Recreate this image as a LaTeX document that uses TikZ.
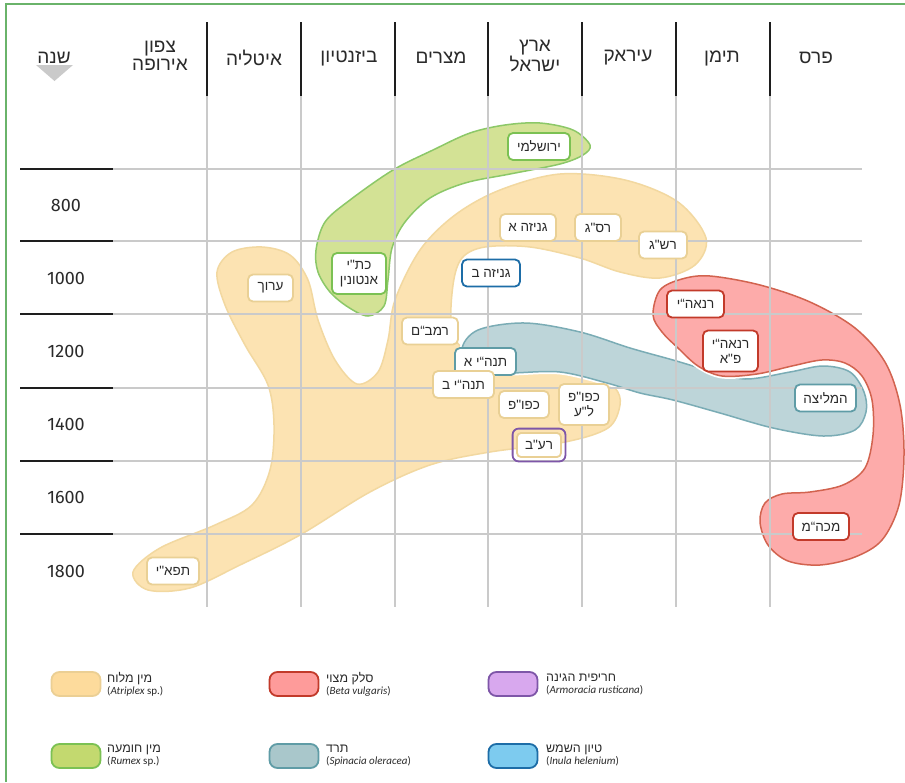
\documentclass[tikz,border=0pt]{standalone}
\usepackage{fontspec}
\setmainfont{Liberation Sans}
\newfontfamily\heb[Script=Hebrew]{Liberation Sans}
\newfontfamily\numf{Fira Sans}
\newfontfamily\latf{Carlito}
\TeXXeTstate=1
\newcommand\HebT[1]{\beginR #1\endR}

\definecolor{frameg}{HTML}{6AB36A}
\definecolor{gridg}{HTML}{CACACA}
\definecolor{gridk}{HTML}{1E1E1E}
\definecolor{txt}{HTML}{2A2A2A}
% blob colours
\definecolor{byF}{HTML}{FCE3B2}\definecolor{byD}{HTML}{F2D8A0}
\definecolor{btF}{HTML}{BDD5D9}\definecolor{btD}{HTML}{7AACB5}
\definecolor{brF}{HTML}{FDABAA}\definecolor{brD}{HTML}{D2634F}
\definecolor{bgF}{HTML}{D3E295}\definecolor{bgD}{HTML}{8CC868}
% node borders
\definecolor{nY}{HTML}{E9D095}
\definecolor{nG}{HTML}{7BC153}
\definecolor{nB}{HTML}{1D6DA7}
\definecolor{nR}{HTML}{C23A2A}
\definecolor{nT}{HTML}{5F9CA6}
\definecolor{nP}{HTML}{7E56A8}
% legend fills
\definecolor{lY}{HTML}{FDDB9C}\definecolor{lYd}{HTML}{EBCF94}
\definecolor{lR}{HTML}{FE9B9A}
\definecolor{lP}{HTML}{D8A8EE}
\definecolor{lG}{HTML}{C3D96F}
\definecolor{lT}{HTML}{A9C7CB}
\definecolor{lB}{HTML}{7DCBEF}

\begin{document}
\begin{tikzpicture}[x=1pt,y=-1pt,
  blob/.style={line width=1.5pt, preaction={draw=white, line width=5pt}},
  gline/.style={draw=gridg, line width=2pt},
  kline/.style={draw=gridk, line width=2pt},
  head/.style={text=txt, align=center, inner sep=0pt, font=\heb\fontsize{19}{18}\selectfont},
  year/.style={text=txt, inner sep=0pt, font=\numf\fontsize{18}{18}\selectfont},
  tbox/.style={draw, fill=white, rounded corners=5pt, line width=1.8pt,
     minimum height=27pt, inner xsep=4pt, inner ysep=3pt, align=center,
     text=txt, font=\heb\fontsize{13.5}{15}\selectfont},
  two/.style={minimum height=41pt},
  swatch/.style={rounded corners=8pt, line width=1.8pt, minimum width=49pt, minimum height=24pt, inner sep=0pt},
  legtxt/.style={anchor=west, align=left, inner sep=0pt, text=txt},
  lhe/.style={},
]
\useasboundingbox (0,0) rectangle (905,782);

% frame
\draw[frameg, line width=1.5pt] (6,782) -- (6,4) -- (905,4);

% ---------- blobs ----------
% Atriplex (yellow)
\path[blob, fill=byF, draw=byD] plot[smooth cycle, tension=0.55] coordinates {
 (133,572) (160,548) (215,525) (252,505) (270,470) (274,425) (268,385) (245,345)
 (225,305) (217,272) (232,252) (262,247) (290,255) (308,280) (318,320) (335,360)
 (357,384) (378,372) (388,340) (395,300) (420,250) (455,215) (500,190) (560,174)
 (625,180) (678,202) (706,238) (695,265) (660,278) (620,272) (580,258) (530,247)
 (485,247) (462,258) (453,285) (452,330) (470,352) (530,362) (590,372) (615,388)
 (620,405) (608,428) (565,442) (490,452) (430,465) (370,492) (300,535) (240,565)
 (190,588) (148,590)};
% Spinacia (teal)
\path[blob, fill=btF, draw=btD] plot[smooth cycle, tension=0.55] coordinates {
 (462,350) (478,330) (525,323) (580,332) (630,348) (673,360) (707,370) (745,379)
 (790,372) (823,366) (850,372) (864,392) (866,412) (855,430) (823,436) (773,428)
 (720,413) (673,400) (640,393) (607,383) (560,372) (510,373) (478,372)};
% Beta (red)
\path[blob, fill=brF, draw=brD] plot[smooth cycle, tension=0.55] coordinates {
 (653,315) (660,290) (682,279) (710,276) (760,285) (810,302) (855,328) (885,362)
 (900,405) (904,455) (899,505) (882,540) (855,557) (820,565) (788,561) (768,545)
 (760,522) (765,503) (782,494) (810,492) (843,485) (865,468) (873,435) (872,400)
 (862,376) (845,363) (822,360) (792,366) (757,374) (722,376) (698,366) (678,348)
 (662,332)};
% Rumex (green)
\path[blob, fill=bgF, draw=bgD] plot[smooth cycle, tension=0.55] coordinates {
 (590,145) (573,130) (540,123) (505,125) (470,133) (433,150) (393,170) (350,200)
 (325,222) (316,250) (318,272) (330,292) (348,307) (368,316) (384,306) (388,280)
 (392,248) (405,222) (430,198) (465,183) (510,174) (560,164) (583,155)};

% ---------- grid ----------
\foreach \x in {207,301,395,488,582,676,770}{
  \draw[gline] (\x,96) -- (\x,607);
  \draw[kline] (\x,22) -- (\x,96);
}
\foreach \y in {169,241,314,388,461,534}{
  \draw[gline] (113,\y) -- (862,\y);
  \draw[kline] (20,\y) -- (113,\y);
}

% ---------- headers ----------
\node[head] (hYear) at (54,58) {\HebT{שנה}};
\path[fill=gridg] (36,65) -- (73,65) -- (54.5,81) -- cycle;
\node[head] (hEur) at (160,56) {\HebT{צפון}\\\HebT{אירופה}};
\node[head] (hIta) at (254,58) {\HebT{איטליה}};
\node[head] (hByz) at (349,58) {\HebT{ביזנטיון}};
\node[head] (hEgy) at (441,58) {\HebT{מצרים}};
\node[head] (hIsr) at (535,56) {\HebT{ארץ}\\\HebT{ישראל}};
\node[head] (hIrq) at (628,58) {\HebT{עיראק}};
\node[head] (hYem) at (722,58) {\HebT{תימן}};
\node[head] (hPer) at (816,58) {\HebT{פרס}};

% ---------- years ----------
\node[year] (y800)  at (66,205) {800};
\node[year] (y1000) at (66,278) {1000};
\node[year] (y1200) at (66,351) {1200};
\node[year] (y1400) at (66,424) {1400};
\node[year] (y1600) at (66,497) {1600};
\node[year] (y1800) at (66,571) {1800};

% ---------- text boxes ----------
\node[tbox, draw=nG, minimum width=62pt] (n1) at (539,146.5) {\HebT{ירושלמי}};
\node[tbox, draw=nY, minimum width=56pt] (n2) at (528,227.5) {\HebT{גניזה א}};
\node[tbox, draw=nY, minimum width=46pt] (n3) at (598,227.5) {\HebT{רס"ג}};
\node[tbox, draw=nY, minimum width=48pt] (n4) at (663,245) {\HebT{רש"ג}};
\node[tbox, draw=nB, minimum width=58pt] (n5) at (491,273) {\HebT{גניזה ב}};
\node[tbox, draw=nR, minimum width=57pt] (n6) at (695.5,304) {\HebT{רנאה“י}};
\node[tbox, two, draw=nR, minimum width=55pt] (n7) at (730.5,351) {\HebT{רנאה“י}\\\HebT{פ"א}};
\node[tbox, two, draw=nG, minimum width=54pt] (n8) at (359,273.5) {\HebT{כת"י}\\\HebT{אנטונין}};
\node[tbox, draw=nY, minimum width=45pt] (n9) at (270.5,288) {\HebT{ערוך}};
\node[tbox, draw=nY, minimum width=56pt] (n10) at (430,331) {\HebT{רמב“ם}};
\node[tbox, draw=nT, minimum width=61pt] (n11) at (485.5,361.5) {\HebT{תנה“י א}};
\node[tbox, draw=nY, minimum width=61pt] (n12) at (463.5,384.5) {\HebT{תנה“י ב}};
\node[tbox, draw=nY, minimum width=50pt] (n13) at (524,404.5) {\HebT{כפו"פ}};
\node[tbox, two, draw=nY, minimum width=50pt] (n14) at (584,404.5) {\HebT{כפו"פ}\\\HebT{ל"ע}};
\node[tbox, draw=nY, minimum width=44pt, minimum height=24pt, rounded corners=4pt] (n15) at (539,445) {\HebT{רע"ב}};
\draw[nP, line width=1.8pt, rounded corners=6pt]
  ([shift={(-3.5,-3.5)}]n15.north west) rectangle ([shift={(3.5,3.5)}]n15.south east);
\node[tbox, draw=nT, minimum width=61pt] (n16) at (825.5,398) {\HebT{המליצה}};
\node[tbox, draw=nR, minimum width=56pt] (n17) at (821,526.5) {\HebT{מכה“מ}};
\node[tbox, draw=nY, minimum width=52pt] (n18) at (173,571) {\HebT{תפא"י}};

% ---------- legend ----------
\node[swatch, fill=lY, draw=lYd] (s1) at (76,684) {};
\node[swatch, fill=lR, draw=nR]  (s2) at (294,684) {};
\node[swatch, fill=lP, draw=nP]  (s3) at (513,684) {};
\node[swatch, fill=lG, draw=nG]  (s4) at (76,756) {};
\node[swatch, fill=lT, draw=nT]  (s5) at (294,756) {};
\node[swatch, fill=lB, draw=nB]  (s6) at (513,756) {};

\node[legtxt] (t1) at (107,684.5) {{\heb\fontsize{12.5}{15}\selectfont\HebT{מין מלוח}}\\{\latf\fontsize{11}{15}\selectfont(\textit{Atriplex} sp.)}};
\node[legtxt] (t2) at (326,684.5) {{\heb\fontsize{12.5}{15}\selectfont\HebT{סלק מצוי}}\\{\latf\fontsize{11}{15}\selectfont(\textit{Beta vulgaris})}};
\node[legtxt] (t3) at (546,684.5) {{\heb\fontsize{12.5}{15}\selectfont\HebT{חריפית הגינה}}\\{\latf\fontsize{11}{15}\selectfont(\textit{Armoracia rusticana})}};
\node[legtxt] (t4) at (107,755.5) {{\heb\fontsize{12.5}{15}\selectfont\HebT{מין חומעה}}\\{\latf\fontsize{11}{15}\selectfont(\textit{Rumex} sp.)}};
\node[legtxt] (t5) at (326,755.5) {{\heb\fontsize{12.5}{15}\selectfont\HebT{תרד}}\\{\latf\fontsize{11}{15}\selectfont(\textit{Spinacia oleracea})}};
\node[legtxt] (t6) at (546,755.5) {{\heb\fontsize{12.5}{15}\selectfont\HebT{טיון השמש}}\\{\latf\fontsize{11}{15}\selectfont(\textit{Inula helenium})}};
\end{tikzpicture}
\end{document}
